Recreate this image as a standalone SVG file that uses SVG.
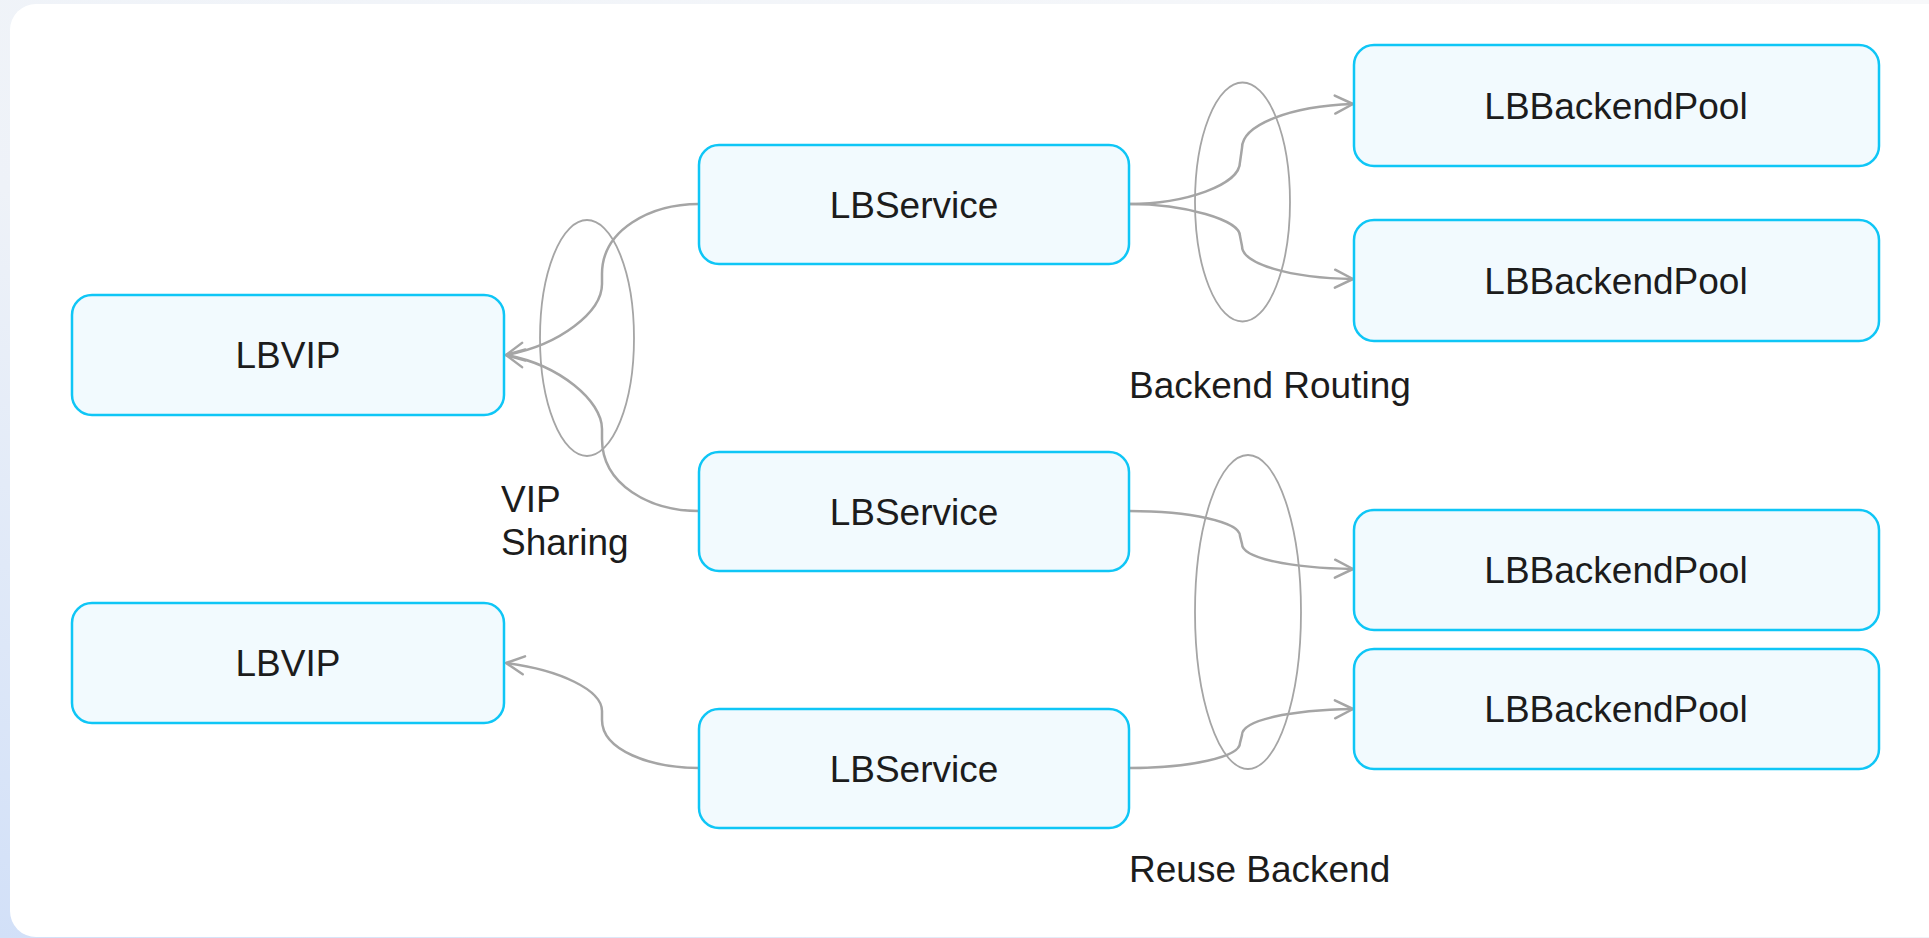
<svg xmlns="http://www.w3.org/2000/svg" width="1929" height="938" viewBox="0 0 1929 938">
<defs>
<linearGradient id="bg" x1="1" y1="0" x2="0" y2="1">
<stop offset="0" stop-color="#f7f8fa"/>
<stop offset="0.6" stop-color="#eef2f8"/>
<stop offset="1" stop-color="#d2e0f8"/>
</linearGradient>
<marker id="arr" viewBox="0 0 22 22" refX="20" refY="11" markerWidth="22" markerHeight="22" markerUnits="userSpaceOnUse" orient="auto">
<path d="M2,2 L20,11 L2,20" fill="none" stroke="#a5a5a5" stroke-width="2.5" stroke-linecap="round" stroke-linejoin="round"/>
</marker>
<style>
.node rect{fill:#f2fafe;stroke:#0fc6f6;stroke-width:2.5}
.node text,.label{font-family:"Liberation Sans",Arial,sans-serif;font-size:37px;fill:#1c1c1c}
.node text{text-anchor:middle}
.conn{fill:none;stroke:#a5a5a5;stroke-width:2.5;marker-end:url(#arr)}
.grp{fill:none;stroke:#a5a5a5;stroke-width:1.8}
</style>
</defs>
<rect x="0" y="0" width="1929" height="938" fill="url(#bg)"/>
<rect x="10" y="4" width="1960" height="933" rx="26" fill="#ffffff"/>

<g id="groups">
<ellipse class="grp" cx="587" cy="338" rx="47" ry="118"/>
<ellipse class="grp" cx="1242.5" cy="202" rx="47.5" ry="119.5"/>
<ellipse class="grp" cx="1248" cy="612" rx="53" ry="157"/>
</g>

<g id="connectors">
<path class="conn" d="M699,204 C650,204 602,230 602,274 L602,284 C602,312 560,345 506,355"/>
<path class="conn" d="M699,511 C650,511 602,485 602,439 L602,429 C602,401 560,365 506,355"/>
<path class="conn" d="M699,768 C650,768 602,750 602,720 L602,711 C602,690 560,670 506,663"/>
<path class="conn" d="M1129,204 C1185,204 1240,185 1240,162 L1242,148 C1242,125 1290,106 1353,104"/>
<path class="conn" d="M1129,204 C1185,204 1240,220 1240,236 L1242,246 C1242,264 1290,278 1353,279"/>
<path class="conn" d="M1129,511 C1190,511 1240,522 1240,536 L1242,544 C1242,558 1290,568 1353,569"/>
<path class="conn" d="M1129,768 C1190,768 1240,757 1240,743 L1242,735 C1242,720 1290,710 1353,709"/>
</g>

<g id="lbvip1" class="node"><rect x="72" y="295" width="432" height="120" rx="20"/><text x="288" y="368">LBVIP</text></g>
<g id="lbvip2" class="node"><rect x="72" y="603" width="432" height="120" rx="20"/><text x="288" y="676">LBVIP</text></g>
<g id="lbservice1" class="node"><rect x="699" y="145" width="430" height="119" rx="20"/><text x="914" y="218">LBService</text></g>
<g id="lbservice2" class="node"><rect x="699" y="452" width="430" height="119" rx="20"/><text x="914" y="525">LBService</text></g>
<g id="lbservice3" class="node"><rect x="699" y="709" width="430" height="119" rx="20"/><text x="914" y="782">LBService</text></g>
<g id="pool1" class="node"><rect x="1354" y="45" width="525" height="121" rx="20"/><text x="1616" y="119">LBBackendPool</text></g>
<g id="pool2" class="node"><rect x="1354" y="220" width="525" height="121" rx="20"/><text x="1616" y="294">LBBackendPool</text></g>
<g id="pool3" class="node"><rect x="1354" y="510" width="525" height="120" rx="20"/><text x="1616" y="583">LBBackendPool</text></g>
<g id="pool4" class="node"><rect x="1354" y="649" width="525" height="120" rx="20"/><text x="1616" y="722">LBBackendPool</text></g>

<g id="labels">
<text class="label" x="501" y="512">VIP</text>
<text class="label" x="501" y="555">Sharing</text>
<text class="label" x="1129" y="398">Backend Routing</text>
<text class="label" x="1129" y="882">Reuse Backend</text>
</g>
</svg>
